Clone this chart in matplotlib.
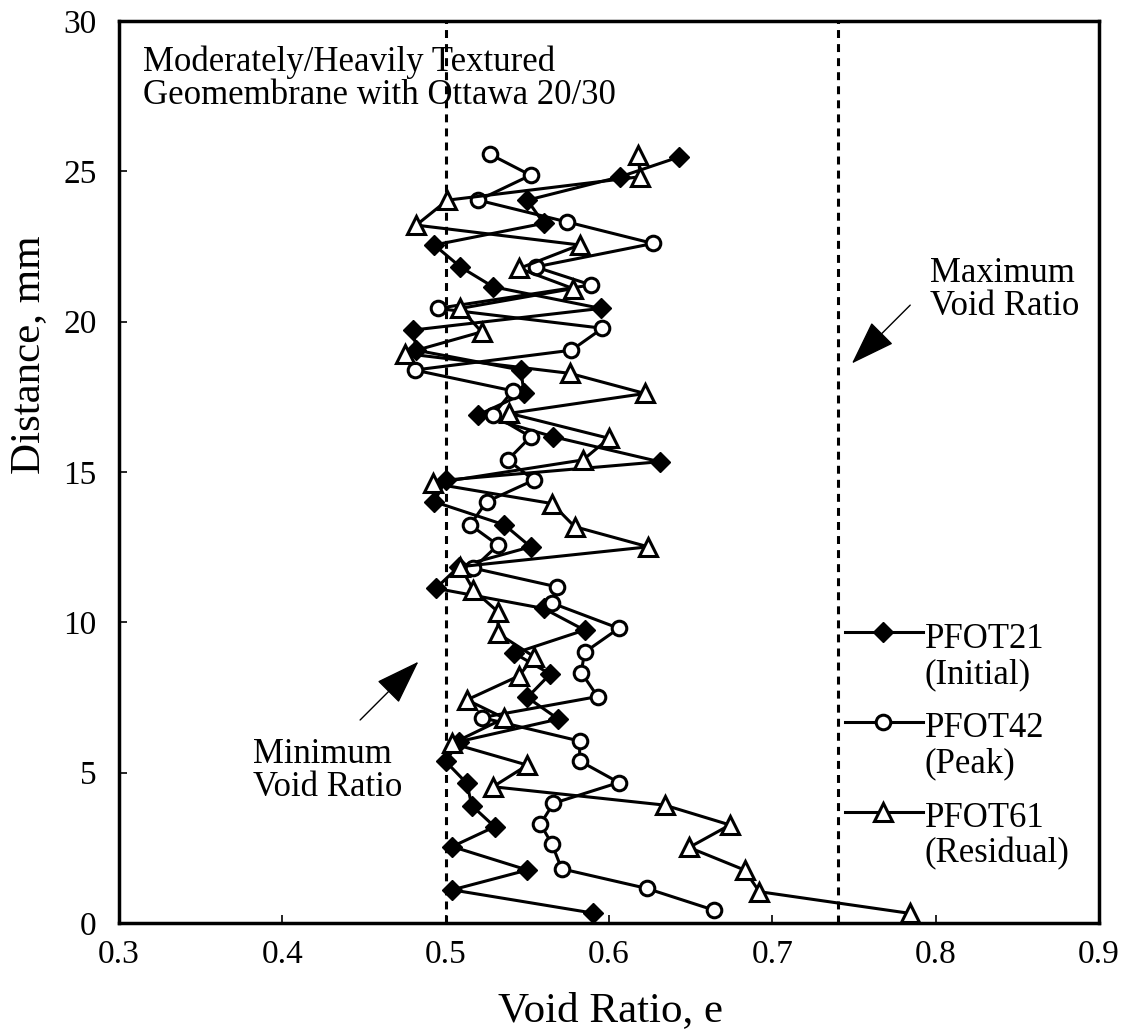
import matplotlib
matplotlib.use("Agg")
import matplotlib.pyplot as plt
from matplotlib.lines import Line2D

plt.rcParams['font.family'] = ['Liberation Serif', 'DejaVu Serif']

# ---- data ----
pfot21_e = [0.590, 0.504, 0.550, 0.504, 0.530, 0.516, 0.513, 0.500, 0.508, 0.569,
            0.550, 0.564, 0.542, 0.585, 0.560, 0.494, 0.508, 0.552, 0.536, 0.493,
            0.500, 0.631, 0.566, 0.520, 0.548, 0.546, 0.482, 0.480, 0.595, 0.529,
            0.509, 0.493, 0.560, 0.550, 0.607, 0.643]
pfot21_d = [0.33, 1.10, 1.76, 2.54, 3.20, 3.90, 4.64, 5.37, 6.03, 6.78,
            7.50, 8.28, 8.97, 9.74, 10.46, 11.13, 11.85, 12.51, 13.24, 14.01,
            14.73, 15.34, 16.17, 16.90, 17.61, 18.39, 19.05, 19.72, 20.44, 21.16,
            21.82, 22.55, 23.27, 24.04, 24.82, 25.48]

pfot42_e = [0.664, 0.623, 0.571, 0.565, 0.558, 0.566, 0.606, 0.582, 0.582, 0.522,
            0.593, 0.583, 0.585, 0.606, 0.565, 0.568, 0.517, 0.532, 0.515, 0.525,
            0.554, 0.538, 0.552, 0.529, 0.541, 0.481, 0.577, 0.596, 0.495, 0.589,
            0.555, 0.627, 0.574, 0.520, 0.552, 0.527]
pfot42_d = [0.43, 1.15, 1.80, 2.63, 3.29, 3.98, 4.67, 5.39, 6.05, 6.83,
            7.53, 8.33, 9.00, 9.80, 10.64, 11.18, 11.80, 12.57, 13.24, 14.01,
            14.73, 15.40, 16.17, 16.90, 17.70, 18.39, 19.05, 19.78, 20.44, 21.22,
            21.82, 22.60, 23.32, 24.04, 24.87, 25.57]

pfot61_e = [0.784, 0.692, 0.683, 0.649, 0.674, 0.634, 0.529, 0.550, 0.504, 0.536,
            0.513, 0.545, 0.554, 0.532, 0.532, 0.517, 0.509, 0.624, 0.579, 0.565,
            0.492, 0.584, 0.600, 0.539, 0.622, 0.576, 0.475, 0.522, 0.509, 0.578,
            0.545, 0.582, 0.482, 0.501, 0.619, 0.618]
pfot61_d = [0.32, 1.04, 1.76, 2.51, 3.26, 3.92, 4.53, 5.25, 5.97, 6.81,
            7.42, 8.22, 8.86, 9.63, 10.35, 11.07, 11.85, 12.51, 13.18, 13.95,
            14.62, 15.40, 16.12, 16.95, 17.61, 18.28, 18.94, 19.66, 20.44, 21.10,
            21.77, 22.55, 23.21, 24.04, 24.82, 25.54]

e_min = 0.50
e_max = 0.74

series_names = ["PFOT21", "PFOT42", "PFOT61"]
series_notes = ["(Initial)", "(Peak)", "(Residual)"]

x_ticks = [0.3, 0.4, 0.5, 0.6, 0.7, 0.8, 0.9]
y_ticks = [0, 5, 10, 15, 20, 25, 30]

# ---- figure ----
fig = plt.figure(figsize=(11.27, 10.34), dpi=100)
ax = fig.add_axes([0.1056, 0.1074, 0.8696, 0.8723])

lw = 2.2
styles = [
    dict(marker='D', markersize=10.5, markerfacecolor='black', markeredgecolor='black', markeredgewidth=1.0),
    dict(marker='o', markersize=10.5, markerfacecolor='white', markeredgecolor='black', markeredgewidth=2.2),
    dict(marker='^', markersize=13, markerfacecolor='white', markeredgecolor='black', markeredgewidth=2.2),
]
data = [(pfot21_e, pfot21_d), (pfot42_e, pfot42_d), (pfot61_e, pfot61_d)]
for (e, d), st in zip(data, styles):
    ax.plot(e, d, color='black', lw=lw, clip_on=False, zorder=3, **st)

for xv in (e_min, e_max):
    ax.axvline(xv, color='black', lw=2.2, linestyle=(0, (2.6, 2.0)), zorder=2)

ax.set_xlim(0.3, 0.9)
ax.set_ylim(0, 30)
ax.set_xticks(x_ticks)
ax.set_xticklabels([f"{v:.1f}" for v in x_ticks])
ax.set_yticks(y_ticks)
ax.set_yticklabels([str(v) for v in y_ticks])
ax.tick_params(direction='in', length=6, width=1.2, labelsize=24)
ax.tick_params(axis='x', pad=12)
ax.tick_params(axis='y', pad=16)
for s in ax.spines.values():
    s.set_linewidth(2.5)

ax.set_xlabel("Void Ratio, e", fontsize=31, va='center')
ax.set_ylabel("Distance, mm", fontsize=31, va='center')
ax.xaxis.set_label_coords(0.502, -0.097)
ax.yaxis.set_label_coords(-0.092, 0.63)

ax.text(0.3147, 29.2, "Moderately/Heavily Textured\nGeomembrane with Ottawa 20/30",
        fontsize=25, va='top', ha='left', linespacing=1.0, zorder=1)
ax.text(0.7966, 22.15, "Maximum\nVoid Ratio", fontsize=25, va='top', ha='left', linespacing=1.0)
ax.text(0.382, 6.15, "Minimum\nVoid Ratio", fontsize=25, va='top', ha='left', linespacing=1.0)

arrow = dict(arrowstyle='-|>,head_length=1.3,head_width=0.45', mutation_scale=22,
             lw=1.0, color='black', shrinkA=0, shrinkB=0)
ax.annotate("", xy=(0.7487, 18.61), xytext=(0.7844, 20.55), arrowprops=arrow)
ax.annotate("", xy=(0.4833, 8.69), xytext=(0.4476, 6.75), arrowprops=arrow)

# ---- legend (manual, key line aligned with first text line) ----
leg_x0, leg_x1, leg_xm, leg_xt = 0.7408, 0.820, 0.780, 0.8224
leg_rows = [0.3226, 0.2232, 0.1234]
for name, note, st, yr in zip(series_names, series_notes, styles, leg_rows):
    ax.add_line(Line2D([leg_x0, leg_x1], [yr, yr], color='black', lw=lw,
                       transform=ax.transAxes, clip_on=False))
    ax.add_line(Line2D([leg_xm], [yr], color='black', lw=0, transform=ax.transAxes,
                       clip_on=False, **st))
    ax.text(leg_xt, yr - 0.008, name, transform=ax.transAxes, fontsize=25,
            va='center', ha='left')
    ax.text(leg_xt, yr - 0.047, note, transform=ax.transAxes, fontsize=25,
            va='center', ha='left')

fig.savefig("out.png", dpi=100)
